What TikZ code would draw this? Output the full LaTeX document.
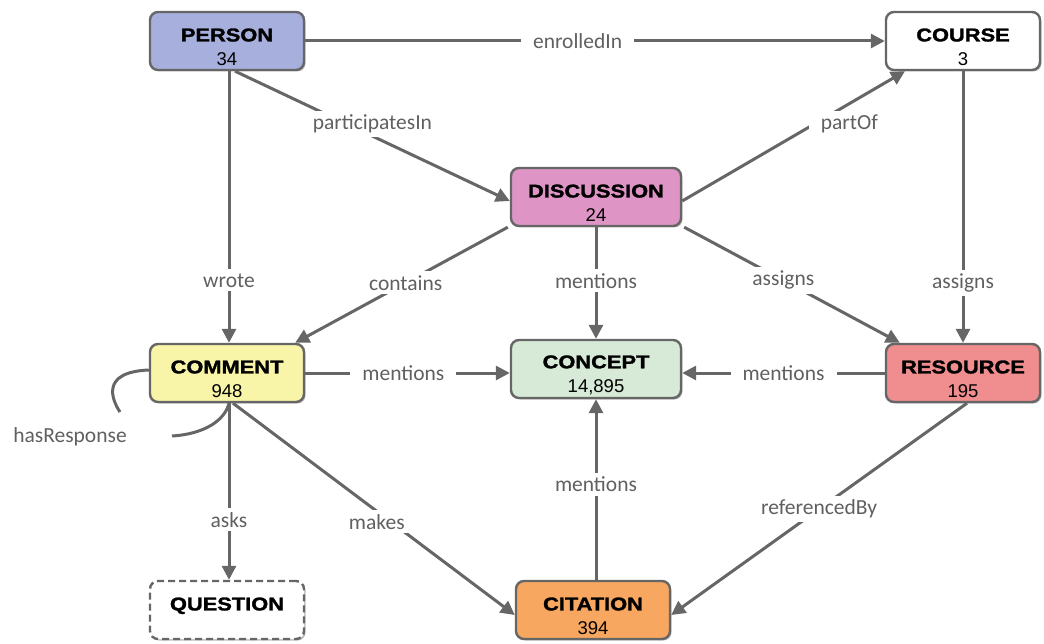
\documentclass[tikz,border=0pt]{standalone}
\usepackage{fontspec}
\setmainfont{Liberation Sans}
\newfontfamily\labelfont{Carlito}
\newfontfamily\titlefont{Liberation Sans Bold}[FakeStretch=1.18, FakeBold=1.6]
\usetikzlibrary{arrows.meta,shadows}
\definecolor{edgegray}{HTML}{666666}
\definecolor{labelgray}{HTML}{606060}
\definecolor{personfill}{HTML}{A7AFDD}
\definecolor{discfill}{HTML}{DE95C5}
\definecolor{commentfill}{HTML}{F8F4A8}
\definecolor{conceptfill}{HTML}{D6EAD7}
\definecolor{resourcefill}{HTML}{F08D8F}
\definecolor{citationfill}{HTML}{F7A75F}
\tikzset{
  x=1pt, y=-1pt,
  entity/.style={draw=edgegray, line width=2.4pt, rounded corners=8pt,
    minimum width=154pt, minimum height=58pt, align=center, inner sep=0pt,
    font=\titlefont\fontsize{18.5}{22}\selectfont,
    drop shadow={shadow xshift=1.5pt, shadow yshift=-1.5pt, opacity=0.25, fill=black}},
  rel/.style={draw=edgegray, line width=3pt, -{Triangle[length=14pt,width=14pt]}},
  plain/.style={draw=edgegray, line width=3pt},
  lbl/.style={fill=white, text=labelgray, inner xsep=12pt, inner ysep=4pt,
    font=\labelfont\fontsize{21.5}{22}\selectfont}
}
% title line over a count line; the strut keeps the title at a fixed height
\newcommand{\ent}[2]{\rule{0pt}{25pt}#1\\[2pt]{\normalfont\fontsize{18.5}{19}\selectfont #2}}
\begin{document}
\begin{tikzpicture}
\useasboundingbox (0,0) rectangle (1044,644);

% entity boxes
\node[entity, fill=personfill]   (person)   at (227,41)  {\ent{PERSON}{34}};
\node[entity, fill=white]        (course)   at (963,41)  {\ent{COURSE}{3}};
\node[entity, fill=discfill, minimum width=170pt] (disc) at (596,197) {\ent{DISCUSSION}{24}};
\node[entity, fill=commentfill]  (comment)  at (227,373) {\ent{COMMENT}{948}};
\node[entity, fill=conceptfill, minimum width=170pt] (concept) at (596,369) {\ent{CONCEPT}{14,895}};
\node[entity, fill=resourcefill] (resource) at (963,373) {\ent{RESOURCE}{195}};
\node[entity, fill=white, dashed, dash pattern=on 7pt off 4pt] (question) at (227,610) {\ent{QUESTION}{\phantom{0}}};
\node[entity, fill=citationfill] (citation) at (593,610) {\ent{CITATION}{394}};

% anchor points on the box outlines
\coordinate (pB) at ([xshift=8pt]person.south);
\coordinate (dL) at ([yshift=-4pt]disc.west);
\coordinate (dR) at ([yshift=-4pt]disc.east);
\coordinate (cTL) at ([xshift=-58pt]course.south);
\coordinate (dBL) at ([xshift=-2pt]disc.south west);
\coordinate (dBR) at ([xshift=2pt]disc.south east);
\coordinate (cmTR) at ([xshift=-10pt]comment.north east);
\coordinate (rTL) at ([xshift=15pt]resource.north west);
\coordinate (cmB) at ([xshift=6pt]comment.south);
\coordinate (rB) at ([xshift=4pt]resource.south);
\coordinate (ciL) at ([yshift=-5pt]citation.west);
\coordinate (ciR) at ([yshift=-5pt]citation.east);

% relations
\draw[rel] (person.east) -- node[lbl, pos=0.47] {enrolledIn} (course.west);
\draw[rel] (pB) -- node[lbl, pos=0.5, yshift=12pt] {participatesIn} (dL);
\draw[rel] ([xshift=2pt]person.south) -- node[lbl, pos=0.77] {wrote} ([xshift=2pt]comment.north);
\draw[rel] (dR) -- node[lbl, pos=0.75, yshift=-20pt] {partOf} (cTL);
\draw[rel] (dBL) -- node[lbl, pos=0.48] {contains} (cmTR);
\draw[rel] (disc.south) -- node[lbl, pos=0.48] {mentions} (disc.south |- concept.north);
\draw[rel] (dBR) -- node[lbl, pos=0.46] {assigns} (rTL);
\draw[rel] (course.south) -- node[lbl, pos=0.78] {assigns} (resource.north);
\draw[rel] (comment.east) -- node[lbl, pos=0.48] {mentions} (comment.east -| concept.west);
\draw[rel] (resource.west) -- node[lbl, pos=0.5] {mentions} (resource.west -| concept.east);
\draw[rel] (citation.north -| concept.south) -- node[lbl, pos=0.53] {mentions} (concept.south);
\draw[rel] ([xshift=2pt]comment.south) -- node[lbl, pos=0.66] {asks} ([xshift=2pt]question.north);
\draw[rel] (cmB) -- node[lbl, pos=0.56, xshift=-14pt] {makes} (ciL);
\draw[rel] (rB) -- node[lbl, pos=0.5] {referencedBy} (ciR);

% self-loop on COMMENT
\coordinate (loopA) at ([yshift=3pt]comment.west);
\coordinate (loopB) at ([xshift=2pt]comment.south);
\node[lbl] (hasresp) at (70,437) {hasResponse};
\draw[plain] (loopA) .. controls (100,372) and (112,400) .. (120,412);
\draw[plain] (172,436) .. controls (205,434) and (225,420) .. (loopB);
\end{tikzpicture}
\end{document}
